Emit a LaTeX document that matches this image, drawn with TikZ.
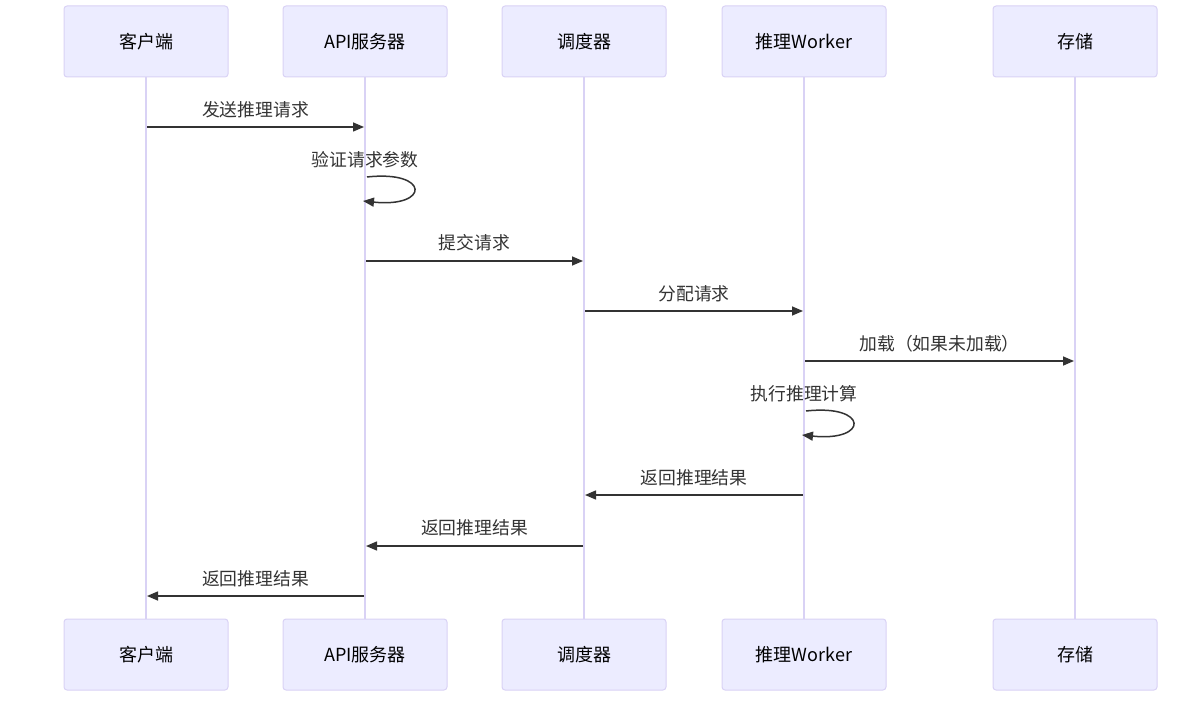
\documentclass[tikz,border=0pt]{standalone}
\usepackage{fontspec}
\setmainfont{Noto Sans CJK SC}
\usetikzlibrary{arrows.meta}
\definecolor{actfill}{HTML}{ECECFF}
\definecolor{actline}{HTML}{D9D2F5}
\definecolor{txt}{HTML}{333333}
\tikzset{
  actor/.style={draw=actline, fill=actfill, line width=1pt, rounded corners=3pt,
    minimum width=164pt, minimum height=71pt, inner sep=0pt,
    font=\fontsize{18}{21}\selectfont, text=black},
  lifeline/.style={draw=actline, line width=2pt},
  msg/.style={draw=txt, line width=1.5pt, -{Triangle[length=11pt,width=9pt]}},
  lbl/.style={font=\fontsize{17.8}{21}\selectfont, text=txt, inner sep=0pt}
}
\begin{document}
\begin{tikzpicture}[x=1pt,y=-1pt]
\useasboundingbox (0,0) rectangle (1182,703);
% top actors
\node[actor] (t1) at (146,41.5) {客户端};
\node[actor] (t2) at (365,41.5) {API服务器};
\node[actor] (t3) at (584,41.5) {调度器};
\node[actor] (t4) at (804,41.5) {推理Worker};
\node[actor] (t5) at (1075,41.5) {存储};
% bottom actors
\node[actor] (b1) at (146,654.5) {客户端};
\node[actor] (b2) at (365,654.5) {API服务器};
\node[actor] (b3) at (584,654.5) {调度器};
\node[actor] (b4) at (804,654.5) {推理Worker};
\node[actor] (b5) at (1075,654.5) {存储};
% lifelines
\foreach \i in {1,...,5} {\draw[lifeline] (t\i.south) -- (b\i.north);}
% message end points
\coordinate (m1a) at (147,127); \coordinate (m1b) at (364,127);
\coordinate (s1a) at (367,177); \coordinate (s1b) at (363,201);
\coordinate (m2a) at (366,261); \coordinate (m2b) at (583,261);
\coordinate (m3a) at (585,311); \coordinate (m3b) at (803,311);
\coordinate (m4a) at (805,361); \coordinate (m4b) at (1074,361);
\coordinate (s2a) at (806,411); \coordinate (s2b) at (802,435);
\coordinate (m5a) at (803,495); \coordinate (m5b) at (585,495);
\coordinate (m6a) at (583,546); \coordinate (m6b) at (366,546);
\coordinate (m7a) at (364,596); \coordinate (m7b) at (147,596);
% messages
\draw[msg] (m1a) -- (m1b);
\node[lbl] (l1) at (255.5,110) {发送推理请求};
\draw[msg] (s1a) .. controls (430,170) and (430,208) .. (s1b);
\node[lbl] (l2) at (365,160) {验证请求参数};
\draw[msg] (m2a) -- (m2b);
\node[lbl] (l3) at (474.5,243) {提交请求};
\draw[msg] (m3a) -- (m3b);
\node[lbl] (l4) at (694,294) {分配请求};
\draw[msg] (m4a) -- (m4b);
\node[lbl] (l5) at (939.5,344) {加载（如果未加载）};
\draw[msg] (s2a) .. controls (869,404) and (869,442) .. (s2b);
\node[lbl] (l6) at (804,394) {执行推理计算};
\draw[msg] (m5a) -- (m5b);
\node[lbl] (l7) at (694,478) {返回推理结果};
\draw[msg] (m6a) -- (m6b);
\node[lbl] (l8) at (474.5,528) {返回推理结果};
\draw[msg] (m7a) -- (m7b);
\node[lbl] (l9) at (255.5,579) {返回推理结果};
\end{tikzpicture}
\end{document}
